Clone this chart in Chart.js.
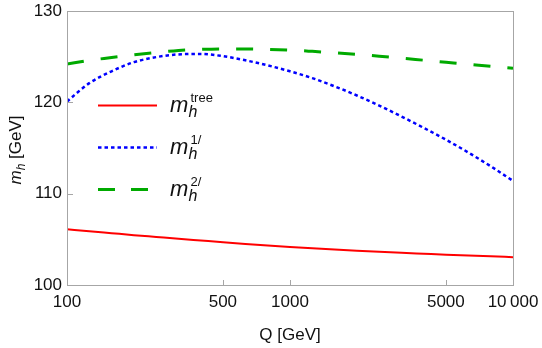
<!DOCTYPE html>
<html>
<head>
<meta charset="utf-8">
<script src="https://cdn.jsdelivr.net/npm/chart.js@4.4.1/dist/chart.umd.min.js"></script>
<style>
  html, body { margin: 0; padding: 0; background: #fff; }
  #wrap { width: 542px; height: 348px; position: relative; }
</style>
</head>
<body>
<div id="wrap"><canvas id="c" width="542" height="348"></canvas></div>
<script>
// Q grid (GeV), 0.1 decade steps
var qVals = [100, 125.9, 158.5, 199.5, 251.2, 316.2, 398.1, 501.2, 631, 794.3, 1000,
             1259, 1585, 1995, 2512, 3162, 3981, 5012, 6310, 7943, 10000];

// m_h tree level
var mTree = [106.1, 105.88, 105.67, 105.46, 105.26, 105.06, 104.87, 104.68, 104.5, 104.33, 104.17,
             104.02, 103.88, 103.75, 103.63, 103.52, 103.42, 103.32, 103.23, 103.14, 103.05];
// m_h one loop
var m1L   = [120.1, 122.1, 123.4, 124.4, 124.95, 125.25, 125.3, 125.05, 124.6, 124.05, 123.4,
             122.65, 121.75, 120.75, 119.65, 118.45, 117.2, 115.9, 114.5, 113.0, 111.4];
// m_h two loop
var m2L   = [124.2, 124.6, 124.9, 125.2, 125.45, 125.68, 125.8, 125.85, 125.85, 125.8, 125.72,
             125.58, 125.42, 125.25, 125.05, 124.83, 124.61, 124.39, 124.17, 123.95, 123.72];

var xTicks = [100, 500, 1000, 5000, 10000];
var xTickText = { 100: "100", 500: "500", 1000: "1000", 5000: "5000", 10000: "10\u2009000" };
var yTicks = [100, 110, 120, 130];

var legendItems = [
  { sup: "tree", color: "#ff0000", width: 2,   dash: [] },
  { sup: "1/",   color: "#0000ff", width: 2.5, dash: [3.5, 3] },
  { sup: "2/",   color: "#00aa00", width: 3,   dash: [17, 16] }
];

var FONT = "'Liberation Sans', Arial, sans-serif";
var FRAME = "#a6a6a6";
var TXT = "#111";

function pts(arr) {
  return qVals.map(function(q, i) { return { x: q, y: arr[i] }; });
}

// frame, inward ticks, legend and axis titles
var framePlugin = {
  id: "frame",
  afterDraw: function(chart) {
    var ctx = chart.ctx, a = chart.chartArea;
    var xs = chart.scales.x, ys = chart.scales.y;
    ctx.save();
    ctx.strokeStyle = FRAME;
    ctx.lineWidth = 1;
    ctx.strokeRect(Math.round(a.left) + 0.5, Math.round(a.top) + 0.5,
                   Math.round(a.right - a.left), Math.round(a.bottom - a.top));
    ctx.beginPath();
    xTicks.forEach(function(v) {
      var px = Math.round(xs.getPixelForValue(v)) + 0.5;
      ctx.moveTo(px, a.bottom); ctx.lineTo(px, a.bottom - 5);
    });
    yTicks.forEach(function(v) {
      var py = Math.round(ys.getPixelForValue(v)) + 0.5;
      ctx.moveTo(a.left, py); ctx.lineTo(a.left + 6, py);
    });
    ctx.stroke();

    // legend
    legendItems.forEach(function(it, i) {
      var ly = 105.5 + i * 42;
      ctx.beginPath();
      ctx.strokeStyle = it.color;
      ctx.lineWidth = it.width;
      ctx.setLineDash(it.dash);
      ctx.moveTo(98, ly); ctx.lineTo(157, ly);
      ctx.stroke();
      ctx.setLineDash([]);
      var bl = ly + 6;
      ctx.fillStyle = TXT;
      ctx.textBaseline = "alphabetic";
      ctx.textAlign = "left";
      ctx.font = "italic 22px " + FONT;
      ctx.fillText("m", 170, bl);
      ctx.font = "italic 16px " + FONT;
      ctx.fillText("h", 188.5, bl + 5);
      ctx.font = "13px " + FONT;
      ctx.fillText(it.sup, 190.5, bl - 9.5);
    });

    // x title
    ctx.fillStyle = TXT;
    ctx.font = "17px " + FONT;
    ctx.textAlign = "center";
    ctx.fillText("Q [GeV]", 290, 340);

    // y title (rotated)
    ctx.translate(21, 150);
    ctx.rotate(-Math.PI / 2);
    ctx.textAlign = "left";
    ctx.font = "italic 17px " + FONT;
    var wm = ctx.measureText("m").width;
    ctx.font = "italic 12px " + FONT;
    var wh = ctx.measureText("h").width;
    ctx.font = "17px " + FONT;
    var wg = ctx.measureText(" [GeV]").width;
    var x0 = -(wm + wh + wg) / 2;
    ctx.font = "italic 17px " + FONT;
    ctx.fillText("m", x0, 0);
    ctx.font = "italic 12px " + FONT;
    ctx.fillText("h", x0 + wm, 4);
    ctx.font = "17px " + FONT;
    ctx.fillText(" [GeV]", x0 + wm + wh, 0);
    ctx.restore();
  }
};

new Chart(document.getElementById("c"), {
  type: "line",
  data: {
    datasets: [
      { label: "tree", data: pts(mTree), borderColor: "#ff0000", borderWidth: 2,
        pointRadius: 0, cubicInterpolationMode: "monotone", fill: false },
      { label: "1L", data: pts(m1L), borderColor: "#0000ff", borderWidth: 2.5, borderDash: [3.5, 3],
        pointRadius: 0, cubicInterpolationMode: "monotone", fill: false },
      { label: "2L", data: pts(m2L), borderColor: "#00aa00", borderWidth: 3, borderDash: [17, 17],
        pointRadius: 0, cubicInterpolationMode: "monotone", fill: false }
    ]
  },
  options: {
    responsive: false,
    animation: false,
    devicePixelRatio: 1,
    layout: { padding: { top: 11, right: 29, left: 0, bottom: 0 } },
    plugins: { legend: { display: false }, tooltip: { enabled: false } },
    scales: {
      x: {
        type: "logarithmic", min: 100, max: 10000,
        afterBuildTicks: function(s) { s.ticks = xTicks.map(function(v) { return { value: v }; }); },
        afterFit: function(s) { s.height = 63; s.paddingLeft = 0; s.paddingRight = 0; },
        grid: { display: false, drawTicks: false },
        border: { display: false },
        ticks: {
          autoSkip: false, maxRotation: 0, padding: 7,
          color: TXT, font: { family: FONT, size: 17 },
          callback: function(v) { return xTickText[v] || ""; }
        }
      },
      y: {
        type: "linear", min: 100, max: 130,
        afterBuildTicks: function(s) { s.ticks = yTicks.map(function(v) { return { value: v }; }); },
        afterFit: function(s) { s.width = 67; s.paddingTop = 0; s.paddingBottom = 0; },
        grid: { display: false, drawTicks: false },
        border: { display: false },
        ticks: { padding: 5, color: TXT, font: { family: FONT, size: 17 } }
      }
    }
  },
  plugins: [framePlugin]
});
</script>
</body>
</html>
